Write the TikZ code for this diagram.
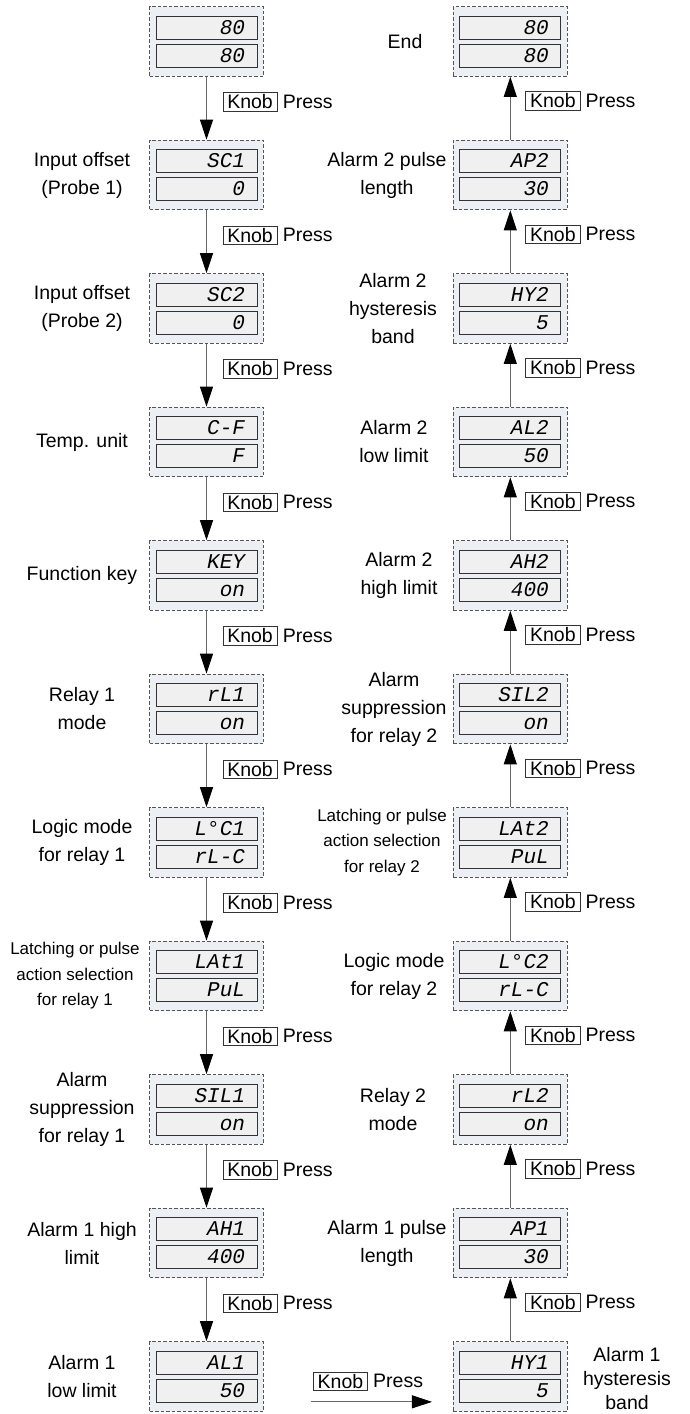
\documentclass[tikz,border=0pt]{standalone}
\usepackage{fontspec}
\setmainfont{Liberation Sans}
\newfontfamily\segfont{Liberation Mono}
\usetikzlibrary{arrows.meta,positioning,fit,backgrounds,calc}
\definecolor{panelfill}{HTML}{ECEFF4}
\definecolor{panelline}{HTML}{555555}
\definecolor{dispfill}{HTML}{F0F0F0}
\definecolor{displine}{HTML}{333333}
\definecolor{wire}{HTML}{666666}

\begin{document}
\begin{tikzpicture}[
  x=1pt, y=1pt,
  font=\fontsize{19.5}{28}\selectfont,
  disp/.style={draw=displine, line width=0.8pt, fill=dispfill, minimum width=101pt,
               minimum height=23pt, inner sep=0pt, text width=77pt, align=right,
               text height=13pt, text depth=0pt,
               font=\segfont\fontsize{21}{21}\selectfont\itshape},
  panel/.style={draw=panelline, line width=0.9pt, dash pattern=on 3.5pt off 2pt,
                fill=panelfill, inner xsep=6pt, inner ysep=9pt},
  lbl/.style={align=center},
  small/.style={lbl, font=\fontsize{17}{25.5}\selectfont},
  knob/.style={draw=black!80, line width=0.6pt, inner xsep=4.5pt, inner ysep=2pt,
               label={[inner sep=0pt, label distance=5pt]right:Press}},
  flow/.style={draw=wire, line width=1pt, -{Triangle[length=20pt, width=13pt, color=black]}},
]
\useasboundingbox (0,0) rectangle (689,-1414);
% ---------------- left column (going down) -----------------
\node[disp] (l0t) at (206.5,-27.5) {80};
\node[disp, below=4.2pt of l0t] (l0b) {80};
\node[disp, below=81.7pt of l0b] (l1t) {SC1};
\node[disp, below=4.2pt of l1t] (l1b) {0};
\node[disp, below=81.7pt of l1b] (l2t) {SC2};
\node[disp, below=4.2pt of l2t] (l2b) {0};
\node[disp, below=81.7pt of l2b] (l3t) {C-F};
\node[disp, below=4.2pt of l3t] (l3b) {F};
\node[disp, below=81.7pt of l3b] (l4t) {KEY};
\node[disp, below=4.2pt of l4t] (l4b) {on};
\node[disp, below=81.7pt of l4b] (l5t) {rL1};
\node[disp, below=4.2pt of l5t] (l5b) {on};
\node[disp, below=81.7pt of l5b] (l6t) {L°C1};
\node[disp, below=4.2pt of l6t] (l6b) {rL-C};
\node[disp, below=81.7pt of l6b] (l7t) {LAt1};
\node[disp, below=4.2pt of l7t] (l7b) {PuL};
\node[disp, below=81.7pt of l7b] (l8t) {SIL1};
\node[disp, below=4.2pt of l8t] (l8b) {on};
\node[disp, below=81.7pt of l8b] (l9t) {AH1};
\node[disp, below=4.2pt of l9t] (l9b) {400};
\node[disp, below=81.7pt of l9b] (l10t) {AL1};
\node[disp, below=4.2pt of l10t] (l10b) {50};
% ---------------- right column (going up) -----------------
\node[disp, right=202pt of l0t] (r0t) {80};
\node[disp, below=4.2pt of r0t] (r0b) {80};
\node[disp, below=81.7pt of r0b] (r1t) {AP2};
\node[disp, below=4.2pt of r1t] (r1b) {30};
\node[disp, below=81.7pt of r1b] (r2t) {HY2};
\node[disp, below=4.2pt of r2t] (r2b) {5};
\node[disp, below=81.7pt of r2b] (r3t) {AL2};
\node[disp, below=4.2pt of r3t] (r3b) {50};
\node[disp, below=81.7pt of r3b] (r4t) {AH2};
\node[disp, below=4.2pt of r4t] (r4b) {400};
\node[disp, below=81.7pt of r4b] (r5t) {SIL2};
\node[disp, below=4.2pt of r5t] (r5b) {on};
\node[disp, below=81.7pt of r5b] (r6t) {LAt2};
\node[disp, below=4.2pt of r6t] (r6b) {PuL};
\node[disp, below=81.7pt of r6b] (r7t) {L°C2};
\node[disp, below=4.2pt of r7t] (r7b) {rL-C};
\node[disp, below=81.7pt of r7b] (r8t) {rL2};
\node[disp, below=4.2pt of r8t] (r8b) {on};
\node[disp, below=81.7pt of r8b] (r9t) {AP1};
\node[disp, below=4.2pt of r9t] (r9b) {30};
\node[disp, below=81.7pt of r9b] (r10t) {HY1};
\node[disp, below=4.2pt of r10t] (r10b) {5};
\begin{scope}[on background layer]
  \node[panel, fit=(l0t)(l0b)] (l0) {};
  \node[panel, fit=(l1t)(l1b)] (l1) {};
  \node[panel, fit=(l2t)(l2b)] (l2) {};
  \node[panel, fit=(l3t)(l3b)] (l3) {};
  \node[panel, fit=(l4t)(l4b)] (l4) {};
  \node[panel, fit=(l5t)(l5b)] (l5) {};
  \node[panel, fit=(l6t)(l6b)] (l6) {};
  \node[panel, fit=(l7t)(l7b)] (l7) {};
  \node[panel, fit=(l8t)(l8b)] (l8) {};
  \node[panel, fit=(l9t)(l9b)] (l9) {};
  \node[panel, fit=(l10t)(l10b)] (l10) {};
  \node[panel, fit=(r0t)(r0b)] (r0) {};
  \node[panel, fit=(r1t)(r1b)] (r1) {};
  \node[panel, fit=(r2t)(r2b)] (r2) {};
  \node[panel, fit=(r3t)(r3b)] (r3) {};
  \node[panel, fit=(r4t)(r4b)] (r4) {};
  \node[panel, fit=(r5t)(r5b)] (r5) {};
  \node[panel, fit=(r6t)(r6b)] (r6) {};
  \node[panel, fit=(r7t)(r7b)] (r7) {};
  \node[panel, fit=(r8t)(r8b)] (r8) {};
  \node[panel, fit=(r9t)(r9b)] (r9) {};
  \node[panel, fit=(r10t)(r10b)] (r10) {};
\end{scope}
% ---------------- captions -----------------
\node[lbl] (txtl1) at (82,0 |- l1) {Input offset\\(Probe 1)};
\node[lbl] (txtl2) at (82,0 |- l2) {Input offset\\(Probe 2)};
\node[lbl] (txtl3) at (82,0 |- l3) {Temp. unit};
\node[lbl] (txtl4) at (82,0 |- l4) {Function key};
\node[lbl] (txtl5) at (82,0 |- l5) {Relay 1\\mode};
\node[lbl] (txtl6) at (82,0 |- l6) {Logic mode\\for relay 1};
\node[small] (txtl7) at (75,0 |- l7) {Latching or pulse\\action selection\\for relay 1};
\node[lbl] (txtl8) at (82,0 |- l8) {Alarm\\suppression\\for relay 1};
\node[lbl] (txtl9) at (82,0 |- l9) {Alarm 1 high\\limit};
\node[lbl] (txtl10) at (82,0 |- l10) {Alarm 1\\low limit};
\node[lbl] (txtr0) at (405,0 |- r0) {End};
\node[lbl] (txtr1) at (387,0 |- r1) {Alarm 2 pulse\\length};
\node[lbl] (txtr2) at (393,0 |- r2) {Alarm 2\\hysteresis\\band};
\node[lbl] (txtr3) at (394,0 |- r3) {Alarm 2\\low limit};
\node[lbl] (txtr4) at (399,0 |- r4) {Alarm 2\\high limit};
\node[lbl] (txtr5) at (394,0 |- r5) {Alarm\\suppression\\for relay 2};
\node[small] (txtr6) at (382,0 |- r6) {Latching or pulse\\action selection\\for relay 2};
\node[lbl] (txtr7) at (394,0 |- r7) {Logic mode\\for relay 2};
\node[lbl] (txtr8) at (393,0 |- r8) {Relay 2\\mode};
\node[lbl] (txtr9) at (387,0 |- r9) {Alarm 1 pulse\\length};
\node[lbl, font=\fontsize{19.5}{24}\selectfont] (txtr10) at ($(627,0 |- r10)+(0,-2)$) {Alarm 1\\hysteresis\\band};
% ---------------- knob presses -----------------
\foreach \i [evaluate=\i as \j using int(\i+1)] in {0,...,9}{
  \draw[flow] (l\i) -- (l\j);
  \node[knob, anchor=west] (kl\i) at ($(l\i.south)+(16,-25)$) {Knob};
  \draw[flow] (r\j) -- (r\i);
  \node[knob, anchor=west] (kr\i) at ($(r\i.south)+(15,-24)$) {Knob};
}
\coordinate (hs) at ($(l10.south east)+(47,10)$);
\coordinate (he) at ($(r10.south west)+(-21,10)$);
\draw[flow] (hs) -- (he);
\node[knob, anchor=west] (kb) at ($(hs)+(2,20.5)$) {Knob};
\end{tikzpicture}
\end{document}
